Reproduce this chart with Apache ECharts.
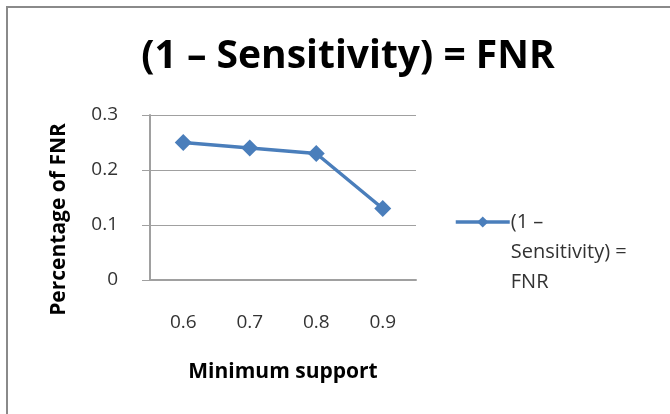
<!DOCTYPE html>
<html><head><meta charset="utf-8">
<script src="https://cdn.jsdelivr.net/npm/echarts@6/dist/echarts.min.js"></script>
<style>html,body{margin:0;padding:0;background:#fff}#c{width:670px;height:414px}</style>
</head><body><div id="c"></div>
<script>
const categories = ['0.6', '0.7', '0.8', '0.9'];
const fnrValues = [0.25, 0.24, 0.23, 0.13];
const yTicks = [0, 0.1, 0.2, 0.3];
const seriesName = '(1 – Sensitivity) = FNR';
const legendLines = ['(1 –', 'Sensitivity) =', 'FNR'];

const chart = echarts.init(document.getElementById('c'));
chart.setOption({
  animation: false,
  backgroundColor: '#fff',
  title: {
    text: seriesName,
    left: 343, top: 32, textAlign: 'center',
    textStyle: { fontFamily: 'Open Sans', fontWeight: 'bold', fontSize: 39, color: '#000' }
  },
  graphic: [
    { type: 'line', shape: { x1: 6, y1: 7, x2: 670, y2: 7 }, style: { stroke: '#8a8a8a', lineWidth: 2 } },
    { type: 'line', shape: { x1: 7, y1: 6, x2: 7, y2: 414 }, style: { stroke: '#8a8a8a', lineWidth: 2 } }
  ],
  grid: { left: 150, top: 115, width: 266, height: 165 },
  legend: {
    left: 454, top: 147, padding: 0,
    itemWidth: 54, itemHeight: 14,
    data: [seriesName],
    lineStyle: { width: 3.5 },
    formatter: () => [' ', ' '].concat(legendLines).join('\n'),
    textStyle: { fontFamily: 'Open Sans', fontSize: 20, color: '#333', lineHeight: 30, padding: [0, 0, 0, -4] },
    itemGap: 0
  },
  xAxis: {
    type: 'category', data: categories, boundaryGap: true,
    name: 'Minimum support', nameLocation: 'middle', nameGap: 82,
    nameTextStyle: { fontFamily: 'Open Sans', fontWeight: 'bold', fontSize: 21, color: '#000' },
    axisLine: { lineStyle: { color: '#a0a0a0', width: 2 } },
    axisTick: { show: false },
    axisLabel: { fontFamily: 'Open Sans', fontSize: 19, color: '#333', margin: 33 }
  },
  yAxis: {
    type: 'value', min: 0, max: 0.3, interval: 0.1,
    name: 'Percentage of FNR', nameLocation: 'middle', nameGap: 80,
    nameTextStyle: { fontFamily: 'Open Sans', fontWeight: 'bold', fontSize: 21, color: '#000', padding: [0, 44, 0, 0] },
    axisLine: { show: true, lineStyle: { color: '#a0a0a0', width: 2 } },
    axisTick: { show: true, length: 8, lineStyle: { color: '#a0a0a0', width: 1 } },
    splitLine: { lineStyle: { color: '#a0a0a0', width: 1 } },
    axisLabel: { fontFamily: 'Open Sans', fontSize: 19, color: '#333', margin: 32,
      formatter: v => { const t = yTicks.find(x => Math.abs(x - v) < 1e-9); return t === undefined ? '' : String(t); } }
  },
  series: [{
    name: seriesName, type: 'line', data: fnrValues,
    symbol: 'diamond', symbolSize: 17,
    lineStyle: { color: '#4a7ebb', width: 3.5 },
    itemStyle: { color: '#4a7ebb' }
  }]
});
</script></body></html>
